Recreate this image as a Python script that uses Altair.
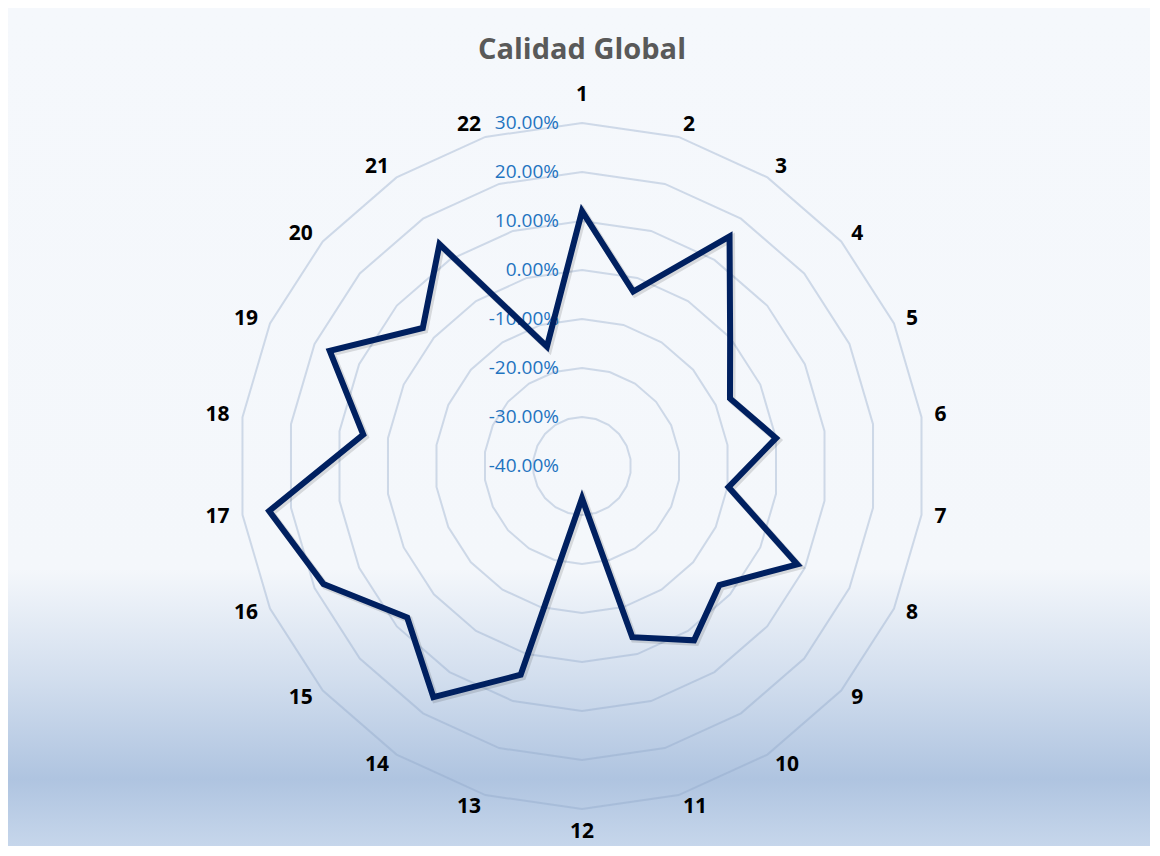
import altair as alt
import pandas as pd

# ---- data ----
categories = [str(i) for i in range(1, 23)]
values = [12.0, -2.9, 15.7, 0.0, -6.8, 0.0, -9.8, 8.3, -2.9, 2.3, -3.6,
          -33.4, 4.4, 16.1, 7.2, 18.0, 24.5, 5.1, 16.6, 3.0, 13.8, -14.6]
ring_levels = [-30, -20, -10, 0, 10, 20, 30]
tick_levels = [30, 20, 10, 0, -10, -20, -30, -40]
tick_labels = ["30.00%", "20.00%", "10.00%", "0.00%", "-10.00%",
               "-20.00%", "-30.00%", "-40.00%"]
title_text = "Calidad Global"

# ---- layout ----
W, H = 1142, 838
CX, CY = 574, 458          # centre of the radar in plot pixels
PX = 4.9                   # pixels per percentage point
R_MIN = -40                # value at the centre
LABEL_R = 72.45            # category label anchor radius (in axis units)
N = len(categories)

xs = alt.Scale(domain=[-CX / PX, (W - CX) / PX], nice=False, zero=False)
ys = alt.Scale(domain=[-(H - CY) / PX, CY / PX], nice=False, zero=False)

series = pd.DataFrame({"idx": list(range(N)), "cat": categories, "value": values})
rings = pd.DataFrame([{"idx": i, "level": lv} for lv in ring_levels for i in range(N)])
ticks = pd.DataFrame({"level": tick_levels, "label": tick_labels})
cats = pd.DataFrame({"idx": list(range(N)), "cat": categories})

theta = f"datum.idx * 2 * PI / {N}"

bg = alt.Chart(pd.DataFrame({"a": [0]})).mark_rect(
    color=alt.LinearGradient(
        gradient="linear", x1=0, x2=0, y1=0, y2=1,
        stops=[
            alt.GradientStop(offset=0, color="#f5f8fc"),
            alt.GradientStop(offset=0.67, color="#f4f7fb"),
            alt.GradientStop(offset=0.80, color="#d2deee"),
            alt.GradientStop(offset=0.92, color="#afc4e0"),
            alt.GradientStop(offset=1.0, color="#c6d6eb"),
        ],
    )
).encode(x=alt.value(0), x2=alt.value(W), y=alt.value(0), y2=alt.value(H))

ring_layer = alt.Chart(rings).transform_calculate(
    r=f"datum.level - ({R_MIN})",
    px=f"datum.r * sin({theta})",
    py=f"datum.r * cos({theta})",
).mark_line(interpolate="linear-closed", color="#8fa6c9", opacity=0.38,
            strokeWidth=2).encode(
    x=alt.X("px:Q", scale=xs, axis=None),
    y=alt.Y("py:Q", scale=ys, axis=None),
    detail="level:N",
    order="idx:Q",
)

line_calc = alt.Chart(series).transform_calculate(
    r=f"datum.value - ({R_MIN})",
    px=f"datum.r * sin({theta})",
    py=f"datum.r * cos({theta})",
)

shadow = line_calc.mark_line(interpolate="linear-closed", color="#000000",
                             opacity=0.12, strokeWidth=7, xOffset=2, yOffset=2,
                             strokeJoin="miter").encode(
    x=alt.X("px:Q", scale=xs, axis=None),
    y=alt.Y("py:Q", scale=ys, axis=None),
    order="idx:Q",
)

data_line = line_calc.mark_line(interpolate="linear-closed", color="#002060",
                                strokeWidth=6, strokeJoin="miter",
                                strokeMiterLimit=10).encode(
    x=alt.X("px:Q", scale=xs, axis=None),
    y=alt.Y("py:Q", scale=ys, axis=None),
    order="idx:Q",
)

cat_base = alt.Chart(cats).transform_calculate(
    s=f"sin({theta})",
    c=f"cos({theta})",
    px=f"{LABEL_R} * sin({theta})",
    py=f"{LABEL_R} * cos({theta})",
)
cat_enc = dict(
    x=alt.X("px:Q", scale=xs, axis=None),
    y=alt.Y("py:Q", scale=ys, axis=None),
    text="cat:N",
)
txt = dict(font="Open Sans", fontSize=21, fontWeight="bold", color="#000000",
           baseline="middle")
cat_right = cat_base.transform_filter("datum.s > 1e-6").mark_text(
    align="left", dx=1, **txt).encode(**cat_enc)
cat_left = cat_base.transform_filter("datum.s < -1e-6").mark_text(
    align="right", dx=-1, **txt).encode(**cat_enc)
cat_top = cat_base.transform_filter("abs(datum.s) <= 1e-6 && datum.c > 0").mark_text(
    align="center", dy=-16, **txt).encode(**cat_enc)
cat_bottom = cat_base.transform_filter("abs(datum.s) <= 1e-6 && datum.c < 0").mark_text(
    align="center", dy=11, **txt).encode(**cat_enc)

tick_layer = alt.Chart(ticks).transform_calculate(
    py=f"datum.level - ({R_MIN})",
).mark_text(font="Open Sans", fontSize=19, color="#1f74c0",
            align="right", baseline="middle").encode(
    x=alt.value(CX - 23),
    y=alt.Y("py:Q", scale=ys, axis=None),
    text="label:N",
)

title_layer = alt.Chart(pd.DataFrame({"t": [title_text]})).mark_text(
    font="Open Sans", fontSize=29, fontWeight="bold", color="#595959",
    align="center", baseline="alphabetic",
).encode(x=alt.value(CX), y=alt.value(51), text="t:N")

chart = alt.layer(
    bg, ring_layer, tick_layer, shadow, data_line,
    cat_right, cat_left, cat_top, cat_bottom, title_layer
).properties(
    width=W, height=H, autosize=alt.AutoSizeParams(type="none"), padding=0,
    background="#ffffff",
).configure_view(stroke=None)

chart.save("out.html", embed_options={"renderer": "svg", "actions": False})
